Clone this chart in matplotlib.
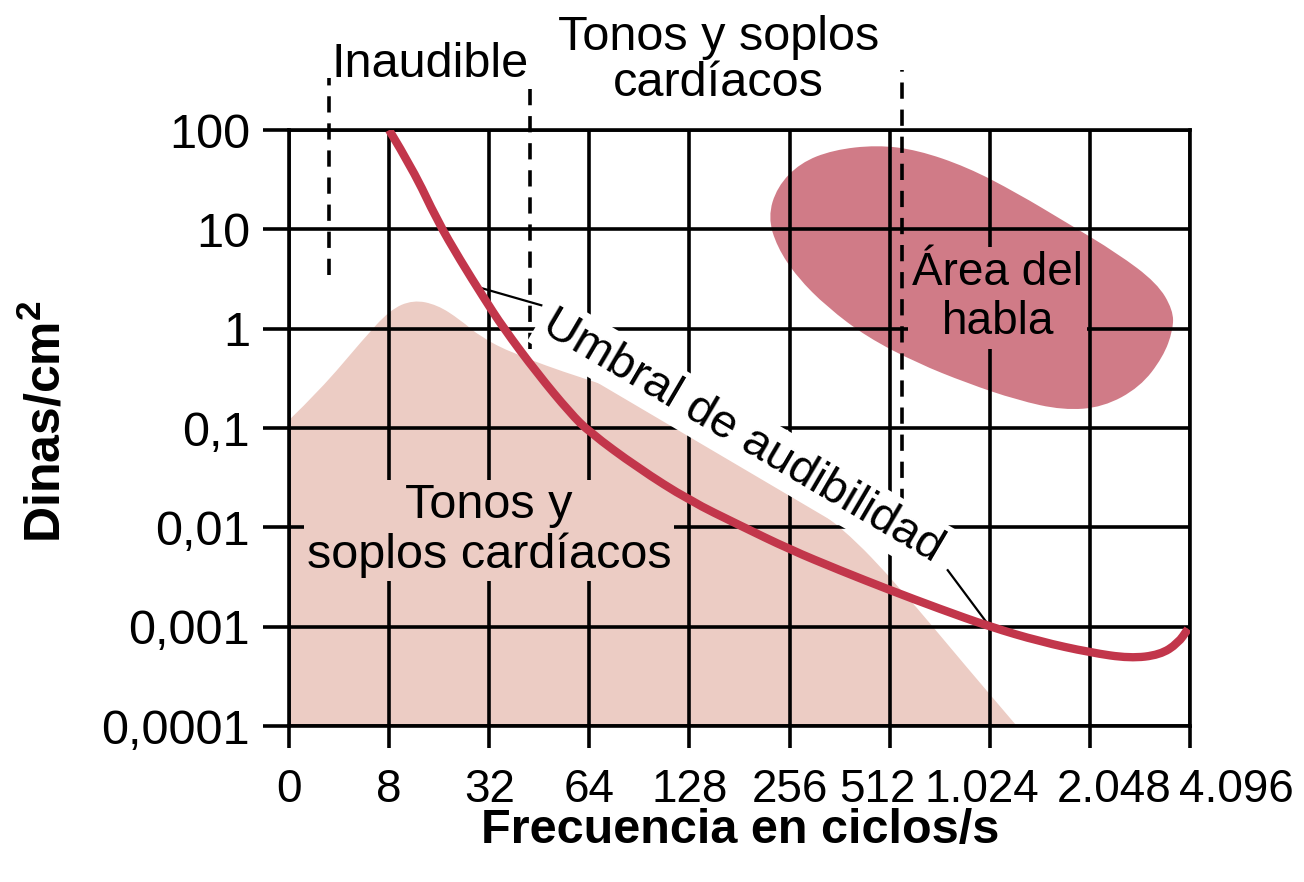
import numpy as np
import matplotlib
matplotlib.use("Agg")
import matplotlib.pyplot as plt
from matplotlib.path import Path
from matplotlib.patches import PathPatch
from matplotlib.transforms import ScaledTranslation

plt.rcParams['font.family'] = ['Liberation Sans', 'DejaVu Sans']
plt.rcParams['mathtext.fontset'] = 'custom'
plt.rcParams['mathtext.rm'] = 'Liberation Sans'
plt.rcParams['mathtext.bf'] = 'Liberation Sans:bold'

# x axis: frequency categories (evenly spaced positions)
freq_labels = ['0', '8', '32', '64', '128', '256', '512', '1.024', '2.048', '4.096']
# y axis: pressure decades
y_ticks = [1e2, 1e1, 1e0, 1e-1, 1e-2, 1e-3, 1e-4]
y_labels = ['100', '10', '1', '0,1', '0,01', '0,001', '0,0001']

# threshold of hearing (x in category positions, y in dyn/cm2)
umbral_x = [1.0, 1.24, 1.48, 1.71, 1.94, 2.14, 2.48, 2.81, 3.0, 3.48, 4.0, 4.5,
            5.0, 5.5, 6.0, 6.5, 7.0, 7.5, 8.0, 8.4, 8.7, 8.88, 8.98]
umbral_y = [100, 39.8, 12.3, 4.9, 2.09, 1.02, 0.355, 0.141, 0.091, 0.040, 0.0186, 0.0105,
            0.0060, 0.0037, 0.00234, 0.00151, 0.001, 0.00071, 0.00055, 0.00048,
            0.00052, 0.00068, 0.00095]

# heart sounds and murmurs region (upper edge)
tonos_x = [0, 0.31, 0.74, 1.01, 1.24, 1.48, 1.71, 1.91, 2.24, 2.91, 3.58, 4.24,
           5.0, 5.53, 6.10, 6.77, 7.27]
tonos_y = [0.12, 0.24, 0.78, 1.55, 1.95, 1.74, 1.23, 0.83, 0.56, 0.32, 0.20, 0.11,
           0.023, 0.01, 0.0025, 0.00039, 1e-4]

# speech area outline
habla_x = [4.785, 4.875, 5.105, 5.435, 5.874, 6.274, 6.773, 7.273, 7.772, 8.272,
           8.671, 8.831, 8.831, 8.731, 8.501, 8.132, 7.732, 7.273, 6.773, 6.274,
           5.774, 5.375, 5.075, 4.875]
habla_y = [13.3, 26.7, 46.6, 63, 70.6, 63, 42.4, 23.2, 11.6, 5.77,
           2.88, 1.54, 0.97, 0.518, 0.258, 0.162, 0.151, 0.191, 0.283, 0.451,
           0.822, 1.65, 3.31, 6.64]

# dashed separators: position, top, bottom
sep_x = [0.40, 2.41, 6.12]
sep_top = [331, 263, 398]
sep_bottom = [3.47, 0.62, 0.0166]

light_pink = '#ecccc4'
blob_pink = '#d07b87'
curve_red = '#c2364b'


def mid(p, q):
    # midpoint on a log-y axis
    return ((p[0] + q[0]) / 2, np.sqrt(p[1] * q[1]))


def smooth_open(xs, ys):
    pts = list(zip(xs, ys))
    verts, codes = [pts[0]], [Path.MOVETO]
    for i in range(1, len(pts) - 1):
        verts += [pts[i], mid(pts[i], pts[i + 1])]
        codes += [Path.CURVE3, Path.CURVE3]
    verts.append(pts[-1])
    codes.append(Path.LINETO)
    return verts, codes


def smooth_closed(xs, ys):
    pts = list(zip(xs, ys))
    n = len(pts)
    verts, codes = [mid(pts[-1], pts[0])], [Path.MOVETO]
    for i in range(n):
        verts += [pts[i], mid(pts[i], pts[(i + 1) % n])]
        codes += [Path.CURVE3, Path.CURVE3]
    verts.append(verts[0])
    codes.append(Path.CLOSEPOLY)
    return Path(verts, codes)


fig = plt.figure(figsize=(13.04, 8.82), dpi=100)
ax = fig.add_axes([289 / 1304, 1 - 726 / 882, 901 / 1304, 596 / 882])

ax.set_yscale('log')
ax.set_xlim(0, 9)
ax.set_ylim(1e-4, 1e2)

v, c = smooth_open(tonos_x, tonos_y)
v += [(0, 1e-4), (0, 1e-4)]
c += [Path.LINETO, Path.CLOSEPOLY]
ax.add_patch(PathPatch(Path(v, c), facecolor=light_pink, edgecolor='none', zorder=0.2))
ax.add_patch(PathPatch(smooth_closed(habla_x, habla_y), facecolor=blob_pink,
                       edgecolor='none', zorder=0.3))

ax.set_axisbelow(True)
ax.grid(True, which='major', color='black', lw=2.6)
for s in ax.spines.values():
    s.set_linewidth(2.6)

ax.set_xticks(range(len(freq_labels)))
ax.set_xticklabels(freq_labels, fontsize=33)
ax.set_yticks(y_ticks)
ax.set_yticklabels(y_labels, fontsize=35)
ax.minorticks_off()
ax.tick_params(axis='y', length=19, width=2.6, pad=9)
ax.tick_params(axis='x', length=16, width=2.6, pad=14)

# shift the crowded last labels like the original
shifts = {6: -12, 7: -8, 8: 24, 9: 46}
for i, lab in enumerate(ax.get_xticklabels()):
    if i in shifts:
        lab.set_transform(lab.get_transform() + ScaledTranslation(shifts[i] / 100, 0, fig.dpi_scale_trans))

for x, t, b in zip(sep_x, sep_top, sep_bottom):
    ax.plot([x, x], [b, t], color='black', lw=2.6, ls=(0, (4.5, 3)), clip_on=False, zorder=2)

v, c = smooth_open(umbral_x, umbral_y)
ax.add_patch(PathPatch(Path(v, c), facecolor='none', edgecolor=curve_red, lw=6,
                       capstyle='butt', joinstyle='round', zorder=5))

# leader lines for the threshold label
ax.plot([1.888, 2.52], [2.62, 1.72], color='black', lw=1.6, zorder=4.5)
ax.plot([6.58, 7.0], [0.0037, 0.001], color='black', lw=1.6, zorder=4.5)

ax.text(4.53, 0.083, 'Umbral de audibilidad', fontsize=34, rotation=-30.5,
        rotation_mode='anchor', ha='center', va='center', zorder=4,
        bbox=dict(facecolor='white', edgecolor='none', pad=4))

ax.text(2.0, 0.0093, 'Tonos y\nsoplos cardíacos', fontsize=35, ha='center', va='center',
        linespacing=1.12, zorder=4,
        bbox=dict(facecolor=light_pink, edgecolor='none', pad=2))

ax.text(7.08, 2.04, 'Área del\nhabla', fontsize=33, ha='center', va='center',
        linespacing=1.15, zorder=4,
        bbox=dict(facecolor=blob_pink, edgecolor='none', pad=3))

ax.text(1.41, 10 ** 2.66, 'Inaudible', fontsize=35, ha='center', va='center', clip_on=False)
ax.text(4.29, 10 ** 2.70, 'Tonos y soplos\ncardíacos', fontsize=35, ha='center', va='center',
        linespacing=1.03, clip_on=False)

fig.text(740 / 1304, 1 - 831 / 882, 'Frecuencia en ciclos/s', fontsize=35, fontweight='bold',
         ha='center', va='center')
fig.text(46 / 1304, 1 - 422 / 882, r'Dinas/cm$^{\mathbf{2}}$', fontsize=36, fontweight='bold',
         ha='center', va='center', rotation=90)

fig.savefig('out.png', dpi=100)
